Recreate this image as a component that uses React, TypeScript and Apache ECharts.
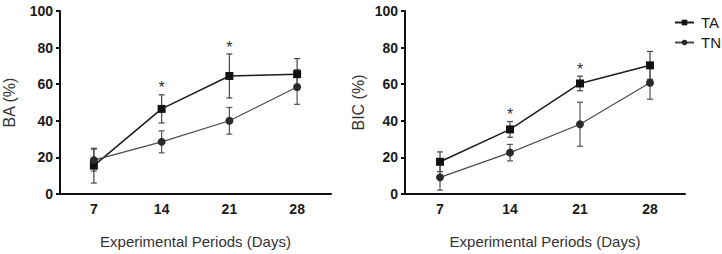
import React, { useEffect, useRef } from "react";
import * as echarts from "echarts";

const days = ["7", "14", "21", "28"];
const baTA = [15.5, 46.5, 64.5, 65.5];
const baTAErr = [9.5, 7.7, 12, 8.5];
const baTN = [18.5, 28.5, 40, 58.5];
const baTNErr = [6, 6, 7.3, 9.5];
const bicTA = [17.6, 35.3, 60.4, 70.3];
const bicTAErr = [5.4, 4.3, 4, 7.6];
const bicTN = [9.1, 22.6, 38.1, 60.8];
const bicTNErr = [7, 4.5, 12, 9];
const baStar = [null, 58, 80, null];
const bicStar = [null, 43.5, 68, null];
const yTicks = { min: 0, max: 100, interval: 20 };

const FONT = "Liberation Sans, Arial, sans-serif";

export default function App() {
  const ref = useRef<HTMLDivElement>(null);
  useEffect(() => {
    if (!ref.current) return;
    const chart = echarts.init(ref.current, undefined, { renderer: "svg" });

    const errSeries = (name: string, vals: number[], errs: number[], idx: number, color: string) => ({
      type: "custom",
      name,
      xAxisIndex: idx,
      yAxisIndex: idx,
      z: 1,
      data: vals.map((v, i) => [i, v, errs[i]]),
      renderItem: (params: any, api: any) => {
        const i = api.value(0);
        const m = api.value(1);
        const e = api.value(2);
        const top = api.coord([i, m + e]);
        const bot = api.coord([i, m - e]);
        const style = { stroke: color, lineWidth: 1.2 };
        const x = top[0];
        return {
          type: "group",
          children: [
            { type: "line", shape: { x1: x, y1: top[1], x2: x, y2: bot[1] }, style },
            { type: "line", shape: { x1: x - 3, y1: top[1], x2: x + 3, y2: top[1] }, style },
            { type: "line", shape: { x1: x - 3, y1: bot[1], x2: x + 3, y2: bot[1] }, style },
          ],
        };
      },
    });

    const starSeries = (name: string, vals: (number | null)[], idx: number) => ({
      type: "custom",
      name,
      xAxisIndex: idx,
      yAxisIndex: idx,
      z: 5,
      data: vals.map((v, i) => (v == null ? null : [i, v])).filter((d) => d != null),
      renderItem: (params: any, api: any) => {
        const p = api.coord([api.value(0), api.value(1)]);
        return {
          type: "text",
          x: p[0],
          y: p[1],
          style: {
            text: "*",
            fill: "#333",
            font: `16px ${FONT}`,
            align: "center",
            verticalAlign: "middle",
          },
        };
      },
    });

    const lineSeries = (name: string, vals: number[], idx: number, square: boolean) => ({
      type: "line",
      name,
      xAxisIndex: idx,
      yAxisIndex: idx,
      z: 3,
      data: vals,
      symbol: square ? "rect" : "circle",
      symbolSize: 8,
      showSymbol: true,
      lineStyle: { color: square ? "#1c1c1c" : "#4a4a4a", width: square ? 1.5 : 1.2 },
      itemStyle: { color: square ? "#111" : "#2a2a2a", borderWidth: 0 },
      emphasis: { disabled: true },
    });

    const xAxis = (idx: number) => ({
      type: "category",
      gridIndex: idx,
      data: days,
      boundaryGap: true,
      axisLine: { lineStyle: { color: "#111", width: 2 } },
      axisTick: { alignWithLabel: true, length: 5, lineStyle: { color: "#111", width: 2 } },
      axisLabel: { color: "#1a1a1a", fontWeight: "bold", fontSize: 14, fontFamily: FONT, margin: 8 },
      name: "Experimental Periods (Days)",
      nameLocation: "middle",
      nameGap: 40,
      nameTextStyle: { color: "#333", fontSize: 15, fontFamily: FONT },
    });

    const yAxis = (idx: number, name: string, gap: number) => ({
      type: "value",
      gridIndex: idx,
      min: yTicks.min,
      max: yTicks.max,
      interval: yTicks.interval,
      axisLine: { show: true, lineStyle: { color: "#111", width: 2 } },
      axisTick: { show: true, length: 4, lineStyle: { color: "#111", width: 2 } },
      splitLine: { show: false },
      axisLabel: { color: "#1a1a1a", fontWeight: "bold", fontSize: 14, fontFamily: FONT, margin: 7 },
      name,
      nameLocation: "middle",
      nameGap: gap,
      nameRotate: 90,
      nameTextStyle: { color: "#333", fontSize: 16, fontFamily: FONT },
    });

    chart.setOption({
      animation: false,
      backgroundColor: "#fff",
      grid: [
        { left: 50, right: 391, top: 11, bottom: 56 },
        { left: 405, right: 37, top: 11, bottom: 56 },
      ],
      legend: {
        data: ["TA", "TN"],
        orient: "vertical",
        left: 669,
        top: 10,
        itemWidth: 19,
        itemHeight: 7,
        itemGap: 5,
        selectedMode: false,
        textStyle: { color: "#1a1a1a", fontSize: 15, fontFamily: FONT, padding: [0, 0, 0, 2] },
      },
      xAxis: [xAxis(0), xAxis(1)],
      yAxis: [yAxis(0, "BA (%)", 43), yAxis(1, "BIC (%)", 39)],
      series: [
        errSeries("errBATA", baTA, baTAErr, 0, "#444"),
        errSeries("errBATN", baTN, baTNErr, 0, "#555"),
        errSeries("errBICTA", bicTA, bicTAErr, 1, "#444"),
        errSeries("errBICTN", bicTN, bicTNErr, 1, "#555"),
        lineSeries("TA", baTA, 0, true),
        lineSeries("TN", baTN, 0, false),
        lineSeries("TA", bicTA, 1, true),
        lineSeries("TN", bicTN, 1, false),
        starSeries("starBA", baStar, 0),
        starSeries("starBIC", bicStar, 1),
      ],
    });
    return () => chart.dispose();
  }, []);

  return (
    <div
      ref={ref}
      style={{ position: "fixed", left: 0, top: 0, width: 722, height: 254, background: "#fff" }}
    />
  );
}
